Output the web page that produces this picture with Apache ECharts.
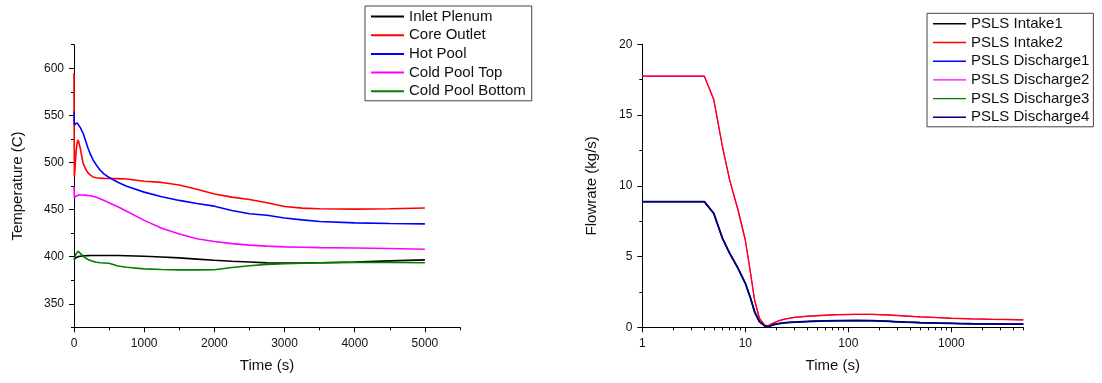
<!DOCTYPE html>
<html>
<head>
	<meta charset="utf-8">
	<title>Temperature and PSLS flowrate</title>
	<script src="https://cdn.jsdelivr.net/npm/echarts@6/dist/echarts.min.js"></script>
	<style>body{margin:0;background:#fff}</style>
</head>
<body>
	<div id="main" style="width: 1102px;height: 383px"></div>
	<script type="text/javascript">
		// left plot: temperatures vs time
		var tempTime = [0, 5, 15, 30, 45, 60, 90, 130, 165, 200, 235, 270, 320, 370, 430, 500, 625, 750, 1000, 1250, 1500, 1750, 2000, 2250, 2500, 2750, 3000, 3250, 3500, 4000, 4500, 5000];
		var inletPlenum = [397, 397.5, 398, 399, 399.6, 400, 400.5, 400.8, 401, 401.1, 401.2, 401.3, 401.3, 401.3, 401.3, 401.3, 401.2, 401, 400.5, 399.7, 398.7, 397.4, 396.1, 395.1, 394.3, 393.4, 393.1, 393.2, 393.6, 394.4, 395.5, 396.6];
		var coreOutlet = [595, 485, 495, 512, 521, 524, 515, 499, 493, 489, 486.5, 484.6, 483.8, 483.3, 483.1, 483, 482.8, 482.5, 480, 478.8, 476, 471.5, 466.5, 463.2, 460.7, 457.2, 453.2, 451.5, 450.8, 450.4, 450.8, 451.7];
		var hotPool = [554, 540, 540.5, 541.5, 542, 541.5, 537, 531, 523, 515, 508.5, 503, 497, 492, 487.6, 484, 479, 474.7, 468.5, 463.6, 459.7, 456.4, 453.6, 449, 445.5, 444, 441, 439, 437.3, 435.9, 435.2, 434.8];
		var coldPoolTop = [474.7, 462.3, 463.5, 464.5, 465, 465.3, 465.5, 465.5, 465.3, 465, 464.6, 464, 463, 461.5, 459.6, 457.3, 453, 448.2, 438.5, 430.2, 424, 419, 416, 413.8, 412.2, 411.2, 410.4, 410, 409.6, 409.2, 408.6, 407.9];
		var coldPoolBottom = [397, 398, 400, 403, 405, 405.8, 403.5, 400.5, 398.5, 397, 396, 395, 394, 393.5, 393.3, 393, 390, 388.7, 387, 386.4, 386, 386, 386.1, 388.4, 390.4, 391.8, 392.5, 393, 393.4, 393.9, 393.8, 393.6];

		// right plot: PSLS flowrates vs time (log)
		var flowTime = [1, 2, 3, 4, 4.94, 6, 7.05, 8.5, 10, 11.25, 12.3, 13.7, 15.4, 16.7, 18.5, 21, 24, 30, 40, 60, 80, 120, 170, 250, 360, 500, 750, 1000, 1600, 2500, 3500, 5000];
		var intake2 = [17.75, 17.75, 17.75, 17.75, 16.1, 12.76, 10.4, 8.29, 6.17, 3.82, 1.93, 0.64, 0.16, 0.1, 0.28, 0.45, 0.58, 0.7, 0.78, 0.85, 0.89, 0.91, 0.91, 0.87, 0.8, 0.74, 0.68, 0.64, 0.59, 0.56, 0.55, 0.53];
		var discharge4 = [8.88, 8.88, 8.88, 8.88, 8.05, 6.29, 5.23, 4.17, 3.11, 2.05, 1.1, 0.4, 0.1, 0.05, 0.17, 0.26, 0.32, 0.37, 0.41, 0.45, 0.47, 0.48, 0.47, 0.42, 0.37, 0.33, 0.3, 0.28, 0.25, 0.24, 0.23, 0.23];
		// these lie underneath the visible red / navy curves
		var intake1 = discharge4;
		var discharge1 = discharge4;
		var discharge3 = discharge4;
		var discharge2 = intake2;

		var tempXTicks = [0, 1000, 2000, 3000, 4000, 5000];
		var tempXMinor = [500, 1500, 2500, 3500, 4500, 5500];
		var tempYTicks = [350, 400, 450, 500, 550, 600];
		var tempYMinor = [325, 375, 425, 475, 525, 575, 625];
		var flowXTicks = [1, 10, 100, 1000];
		var flowXMinor = [2, 3, 4, 5, 6, 7, 8, 9, 20, 30, 40, 50, 60, 70, 80, 90, 200, 300, 400, 500, 600, 700, 800, 900, 2000, 3000, 4000, 5000];
		var flowYTicks = [0, 5, 10, 15, 20];
		var flowYMinor = [2.5, 7.5, 12.5, 17.5];

		var font = 'Liberation Sans, Arial, sans-serif';

		function pairs(xs, ys) {
			return xs.map(function (x, i) { return [x, ys[i]]; });
		}

		function mainAxis(o) {
			return Object.assign({
				axisLine: {onZero: false, lineStyle: {color: '#000', width: 1}},
				axisTick: {customValues: o.ticks, length: 5, lineStyle: {color: '#000'}},
				axisLabel: {
					customValues: o.ticks, margin: 10, color: '#111', fontSize: 12, fontFamily: font,
					formatter: function (v) { return String(v); }
				},
				splitLine: {show: false},
				nameLocation: 'middle',
				nameTextStyle: {color: '#111', fontSize: 15, fontFamily: font}
			}, o.opt);
		}

		function minorAxis(o) {
			return Object.assign({
				axisLine: {show: false, onZero: false},
				axisTick: {customValues: o.ticks, length: 3, lineStyle: {color: '#000'}},
				axisLabel: {show: false},
				splitLine: {show: false}
			}, o.opt);
		}

		function series(name, xs, ys, color, width, axis) {
			return {
				name: name,
				type: 'line',
				xAxisIndex: axis,
				yAxisIndex: axis,
				data: pairs(xs, ys),
				symbol: 'none',
				lineStyle: {color: color, width: width},
				itemStyle: {color: color}
			};
		}

		var legendBase = {
			orient: 'vertical', icon: 'rect',
			itemGap: 3.7, itemWidth: 33,
			borderColor: '#444', borderWidth: 1,
			textStyle: {color: '#111', fontSize: 15, lineHeight: 15, fontFamily: font}
		};

		var myChart = echarts.init(document.getElementById('main'));
		var option = {
			animation: false,
			backgroundColor: '#fff',
			grid: [
				{left: 74, top: 44.7, width: 386, height: 282.6},
				{left: 74, top: 44.7, width: 386, height: 282.6},
				{left: 642.3, top: 44.3, width: 381, height: 283},
				{left: 642.3, top: 44.3, width: 381, height: 283}
			],
			xAxis: [
				mainAxis({ticks: tempXTicks, opt: {gridIndex: 0, type: 'value', min: 0, max: 5500, name: 'Time (s)', nameGap: 31}}),
				minorAxis({ticks: tempXMinor, opt: {gridIndex: 1, type: 'value', min: 0, max: 5500}}),
				mainAxis({ticks: flowXTicks, opt: {gridIndex: 2, type: 'log', logBase: 10, min: 1, max: 5000, name: 'Time (s)', nameGap: 31}}),
				minorAxis({ticks: flowXMinor, opt: {gridIndex: 3, type: 'log', logBase: 10, min: 1, max: 5000}})
			],
			yAxis: [
				mainAxis({ticks: tempYTicks, opt: {gridIndex: 0, type: 'value', min: 325, max: 625, name: 'Temperature (C)', nameGap: 49}}),
				minorAxis({ticks: tempYMinor, opt: {gridIndex: 1, type: 'value', min: 325, max: 625}}),
				mainAxis({ticks: flowYTicks, opt: {gridIndex: 2, type: 'value', min: 0, max: 20, name: 'Flowrate (kg/s)', nameGap: 43}}),
				minorAxis({ticks: flowYMinor, opt: {gridIndex: 3, type: 'value', min: 0, max: 20}})
			],
			legend: [
				Object.assign({}, legendBase, {
					left: 365, top: 6, padding: [3, 6, 2, 6], itemHeight: 2,
					data: ['Inlet Plenum', 'Core Outlet', 'Hot Pool', 'Cold Pool Top', 'Cold Pool Bottom']
				}),
				Object.assign({}, legendBase, {
					left: 927, top: 13.3, padding: [3, 4, 2, 6], itemHeight: 1.4,
					data: ['PSLS Intake1', 'PSLS Intake2', 'PSLS Discharge1', 'PSLS Discharge2', 'PSLS Discharge3', 'PSLS Discharge4']
				})
			],
			series: [
				series('Inlet Plenum', tempTime, inletPlenum, '#000000', 1.6, 0),
				series('Core Outlet', tempTime, coreOutlet, '#ff0000', 1.6, 0),
				series('Hot Pool', tempTime, hotPool, '#0000ff', 1.6, 0),
				series('Cold Pool Top', tempTime, coldPoolTop, '#ff00ff', 1.6, 0),
				series('Cold Pool Bottom', tempTime, coldPoolBottom, '#008000', 1.6, 0),

				// drawing order: hidden curves first, visible red and navy on top
				series('PSLS Intake1', flowTime, intake1, '#000000', 1.2, 2),
				series('PSLS Discharge1', flowTime, discharge1, '#0000ff', 1.2, 2),
				series('PSLS Discharge2', flowTime, discharge2, '#ff00ff', 1.2, 2),
				series('PSLS Discharge3', flowTime, discharge3, '#008000', 1.2, 2),
				series('PSLS Intake2', flowTime, intake2, '#ff0000', 1.3, 2),
				series('PSLS Discharge4', flowTime, discharge4, '#000080', 1.8, 2)
			]
		};
		myChart.setOption(option);
	</script>
</body>
</html>
